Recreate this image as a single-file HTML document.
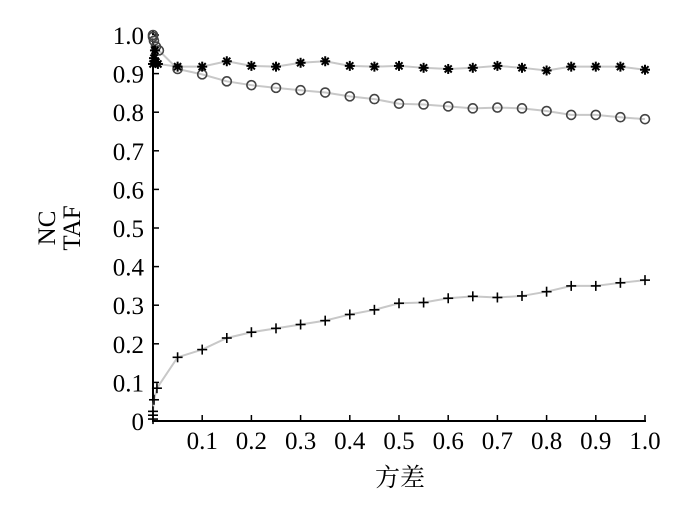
<!DOCTYPE html>
<html><head><meta charset="utf-8"><style>
body{margin:0;background:#fff}
svg text{font-family:"Liberation Serif","Noto Serif CJK SC",serif;fill:#000}
</style></head><body>
<svg id="s" width="700" height="507" viewBox="0 0 700 507" xmlns="http://www.w3.org/2000/svg">
<rect width="700" height="507" fill="#fff"/>
</svg>
<script>
const s=document.getElementById('s');let h='';
const X=v=>153+v*492, Y=v=>421-v*386;
h+='<line x1="153" y1="30" x2="153" y2="422" stroke="#000" stroke-width="2"/>';
h+='<line x1="152" y1="421" x2="646" y2="421" stroke="#000" stroke-width="2"/>';
for(let i=1;i<=10;i++){const y=Y(i/10),x=X(i/10);
h+=`<line x1="153" y1="${y}" x2="159" y2="${y}" stroke="#000" stroke-width="1.5"/>`;
h+=`<line x1="${x}" y1="421" x2="${x}" y2="415" stroke="#000" stroke-width="1.5"/>`;
h+=`<text x="144" y="${y+9}" font-size="25" text-anchor="end">${(i/10).toFixed(1)}</text>`;
h+=`<text x="${x}" y="449" font-size="25" text-anchor="middle">${(i/10).toFixed(1)}</text>`;}
h+=`<text x="144" y="430" font-size="25" text-anchor="end">0</text>`;
h+=`<text x="400" y="486" font-size="25" text-anchor="middle">方差</text>`;
h+=`<text transform="translate(55,228) rotate(-90)" font-size="25" text-anchor="middle">NC</text>`;
h+=`<text transform="translate(80,228) rotate(-90)" font-size="25" text-anchor="middle">TAF</text>`;
const xs=[0.05,0.1,0.15,0.2,0.25,0.3,0.35,0.4,0.45,0.5,0.55,0.6,0.65,0.7,0.75,0.8,0.85,0.9,0.95,1.0];
const star=[[0,0.925],[0.002,0.94],[0.004,0.96],[0.006,0.93],[0.01,0.925]].concat(xs.map((x,i)=>[x,[0.918,0.918,0.932,0.92,0.918,0.928,0.932,0.92,0.918,0.92,0.915,0.912,0.915,0.92,0.915,0.908,0.918,0.918,0.918,0.91][i]]));
const circ=[[0,1.0],[0,0.995],[0.002,0.985],[0.006,0.97],[0.012,0.96]].concat(xs.map((x,i)=>[x,[0.912,0.898,0.88,0.87,0.863,0.857,0.851,0.841,0.834,0.822,0.82,0.815,0.81,0.812,0.81,0.803,0.793,0.793,0.787,0.782][i]]));
const plus=[[0,0.005],[0,0.015],[0,0.025],[0.002,0.055],[0.008,0.085]].concat(xs.map((x,i)=>[x,[0.165,0.185,0.215,0.23,0.24,0.25,0.26,0.276,0.288,0.305,0.307,0.318,0.323,0.32,0.324,0.335,0.35,0.35,0.358,0.365][i]]));
function line(d){h+=`<polyline fill="none" stroke="#c8c8c8" stroke-width="2" points="${d.map(p=>X(p[0])+','+Y(p[1])).join(' ')}"/>`;}
line(star);line(circ);line(plus);
circ.forEach(p=>h+=`<circle cx="${X(p[0])}" cy="${Y(p[1])}" r="4.5" fill="none" stroke="#444" stroke-width="1.6"/>`);
star.forEach(p=>{const x=X(p[0]),y=Y(p[1]);for(let a=0;a<180;a+=45){const r=a*Math.PI/180,dx=5*Math.cos(r),dy=5*Math.sin(r);h+=`<line x1="${x-dx}" y1="${y-dy}" x2="${x+dx}" y2="${y+dy}" stroke="#000" stroke-width="2"/>`;}});
plus.forEach(p=>{const x=X(p[0]),y=Y(p[1]);h+=`<line x1="${x-5}" y1="${y}" x2="${x+5}" y2="${y}" stroke="#000" stroke-width="1.6"/><line x1="${x}" y1="${y-5}" x2="${x}" y2="${y+5}" stroke="#000" stroke-width="1.6"/>`;});
s.innerHTML+=h;
</script>
</body></html>
